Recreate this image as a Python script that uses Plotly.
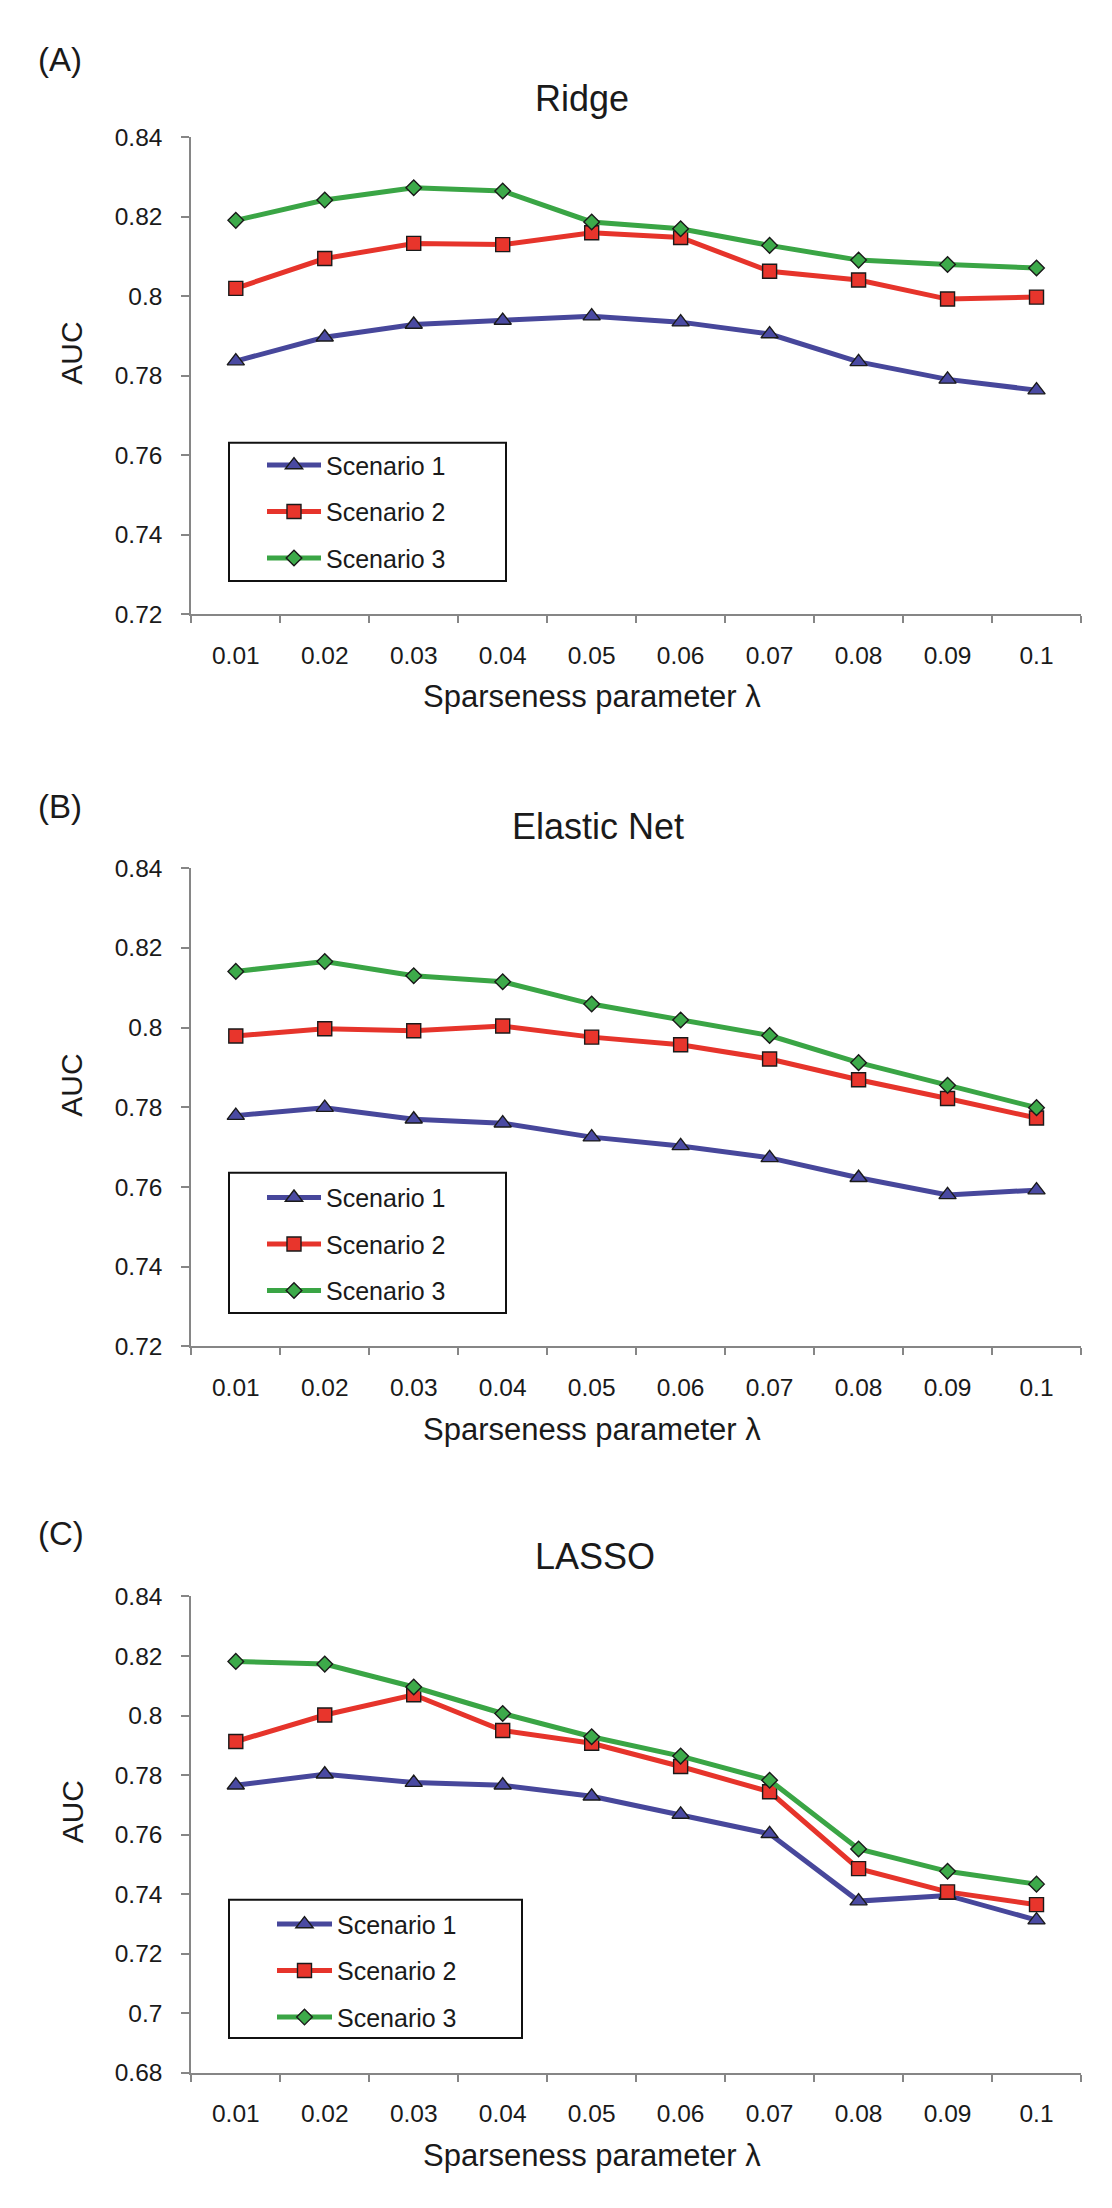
import plotly.graph_objects as go

# ---------------- data ----------------
lambda_labels = ["0.01", "0.02", "0.03", "0.04", "0.05", "0.06", "0.07", "0.08", "0.09", "0.1"]
series_names = ["Scenario 1", "Scenario 2", "Scenario 3"]

ridge_s1 = [0.7837, 0.7897, 0.7929, 0.7939, 0.7950, 0.7935, 0.7905, 0.7835, 0.7791, 0.7764]
ridge_s2 = [0.8020, 0.8095, 0.8133, 0.8130, 0.8160, 0.8148, 0.8063, 0.8041, 0.7993, 0.7998]
ridge_s3 = [0.8191, 0.8242, 0.8273, 0.8265, 0.8187, 0.8170, 0.8128, 0.8091, 0.8080, 0.8071]

enet_s1 = [0.7779, 0.7799, 0.7770, 0.7760, 0.7725, 0.7703, 0.7673, 0.7623, 0.7580, 0.7592]
enet_s2 = [0.7979, 0.7997, 0.7992, 0.8004, 0.7976, 0.7957, 0.7921, 0.7869, 0.7822, 0.7773]
enet_s3 = [0.8141, 0.8166, 0.8130, 0.8115, 0.8059, 0.8019, 0.7980, 0.7912, 0.7855, 0.7799]

lasso_s1 = [0.7766, 0.7803, 0.7775, 0.7766, 0.7729, 0.7668, 0.7603, 0.7377, 0.7396, 0.7313]
lasso_s2 = [0.7913, 0.8002, 0.8070, 0.7950, 0.7907, 0.7829, 0.7744, 0.7486, 0.7408, 0.7365]
lasso_s3 = [0.8182, 0.8173, 0.8096, 0.8007, 0.7929, 0.7864, 0.7783, 0.7552, 0.7477, 0.7434]

ytick_ab_vals = [0.72, 0.74, 0.76, 0.78, 0.80, 0.82, 0.84]
ytick_ab_text = ["0.72", "0.74", "0.76", "0.78", "0.8", "0.82", "0.84"]
ytick_c_vals = [0.68, 0.70, 0.72, 0.74, 0.76, 0.78, 0.80, 0.82, 0.84]
ytick_c_text = ["0.68", "0.7", "0.72", "0.74", "0.76", "0.78", "0.8", "0.82", "0.84"]

panel_titles = ["Ridge", "Elastic Net", "LASSO"]
panel_labels = ["(A)", "(B)", "(C)"]
x_title = "Sparseness parameter \u03bb"
y_title = "AUC"

# ---------------- styling ----------------
W, H = 1112, 2208
FONT = "Liberation Sans, Arial, sans-serif"
TXT = "#1a1a1a"
AXC = "#868686"

line_colors = ["#47479B", "#E6342B", "#3AA545"]
marker_fill = ["#4A4AA2", "#E8352C", "#3DAA4A"]
marker_symbols = ["triangle-up", "square", "diamond"]
marker_sizes = [15, 14, 12]


def py(p):
    return 1 - p / H


def px(p):
    return p / W


panels = [
    dict(data=[ridge_s1, ridge_s2, ridge_s3], yr=[0.72, 0.84], tv=ytick_ab_vals, tt=ytick_ab_text,
         top=117.7, bot=600.7, lab_y=38.5, title_x=574, title_y=78,
         xt_y=683.5, yt_y=336.8, leg_x=254, leg_y=426.5, iw=54,
         box=(221, 427, 498, 567)),
    dict(data=[enet_s1, enet_s2, enet_s3], yr=[0.72, 0.84], tv=ytick_ab_vals, tt=ytick_ab_text,
         top=857.7, bot=1341.7, lab_y=795, title_x=590, title_y=815,
         xt_y=1425.7, yt_y=1077.9, leg_x=254, leg_y=1168, iw=54,
         box=(221, 1166, 498, 1308)),
    dict(data=[lasso_s1, lasso_s2, lasso_s3], yr=[0.68, 0.84], tv=ytick_c_vals, tt=ytick_c_text,
         top=1595, bot=2077.3, lab_y=1531, title_x=587, title_y=1555,
         xt_y=2160.6, yt_y=1813.5, leg_x=264, leg_y=1903.6, iw=55,
         box=(221, 1902, 514, 2042)),
]

fig = go.Figure()
annotations = []
shapes = []
layout_axes = {}
legends = {}

for i, p in enumerate(panels):
    k = "" if i == 0 else str(i + 1)
    leg = "legend" + k
    for j in range(3):
        fig.add_trace(go.Scatter(
            x=lambda_labels, y=p["data"][j], name=series_names[j],
            mode="lines+markers",
            line=dict(color=line_colors[j], width=5),
            marker=dict(symbol=marker_symbols[j], size=marker_sizes[j], color=marker_fill[j],
                        line=dict(color="#1a1a1a", width=1.4)),
            xaxis="x" + k, yaxis="y" + k, legend=leg,
            legendgroup=f"p{i}s{j}",
        ))
    layout_axes["xaxis" + k] = dict(
        domain=[px(183.3), px(1073)], anchor="y" + k, type="category",
        range=[-0.5, 9.5], tickson="boundaries", ticks="outside", ticklen=7,
        tickwidth=2, tickcolor=AXC, showline=True, linecolor=AXC, linewidth=2,
        showgrid=False, zeroline=False, ticklabelstandoff=18,
        tickfont=dict(family=FONT, size=24.5, color=TXT),
    )
    layout_axes["yaxis" + k] = dict(
        domain=[py(p["bot"]), py(p["top"])], anchor="x" + k, range=p["yr"],
        tickvals=p["tv"], ticktext=p["tt"], ticks="outside", ticklen=8,
        tickwidth=2, tickcolor=AXC, showline=True, linecolor=AXC, linewidth=2,
        showgrid=False, zeroline=False, ticklabelstandoff=14,
        tickfont=dict(family=FONT, size=24.5, color=TXT),
    )
    legends[leg] = dict(
        x=px(p["leg_x"]), xanchor="left", y=py(p["leg_y"]), yanchor="top",
        bgcolor="rgba(0,0,0,0)", borderwidth=0, itemwidth=p["iw"],
        tracegroupgap=11, traceorder="grouped",
        font=dict(family=FONT, size=25, color=TXT),
    )
    x0, y0, x1, y1 = p["box"]
    shapes.append(dict(type="rect", xref="paper", yref="paper",
                       x0=px(x0), x1=px(x1), y0=py(y1), y1=py(y0),
                       line=dict(color="#111111", width=2), fillcolor="rgba(0,0,0,0)"))
    annotations += [
        dict(text=panel_labels[i], x=px(28), xanchor="left", y=py(p["lab_y"]), yanchor="middle",
             font=dict(family=FONT, size=33, color=TXT)),
        dict(text=panel_titles[i], x=px(p["title_x"]), xanchor="center", y=py(p["title_y"]),
             yanchor="middle", font=dict(family=FONT, size=36, color=TXT)),
        dict(text=x_title, x=px(584), xanchor="center", y=py(p["xt_y"]), yanchor="middle",
             font=dict(family=FONT, size=31, color=TXT)),
        dict(text=y_title, x=px(64), xanchor="center", y=py(p["yt_y"]), yanchor="middle",
             textangle=-90, font=dict(family=FONT, size=30, color=TXT)),
    ]

for a in annotations:
    a.update(xref="paper", yref="paper", showarrow=False)

fig.update_layout(
    width=W, height=H, margin=dict(l=0, r=0, t=0, b=0),
    paper_bgcolor="white", plot_bgcolor="white",
    showlegend=True, annotations=annotations, shapes=shapes,
    **layout_axes, **legends,
)

fig.write_html("out.html")
